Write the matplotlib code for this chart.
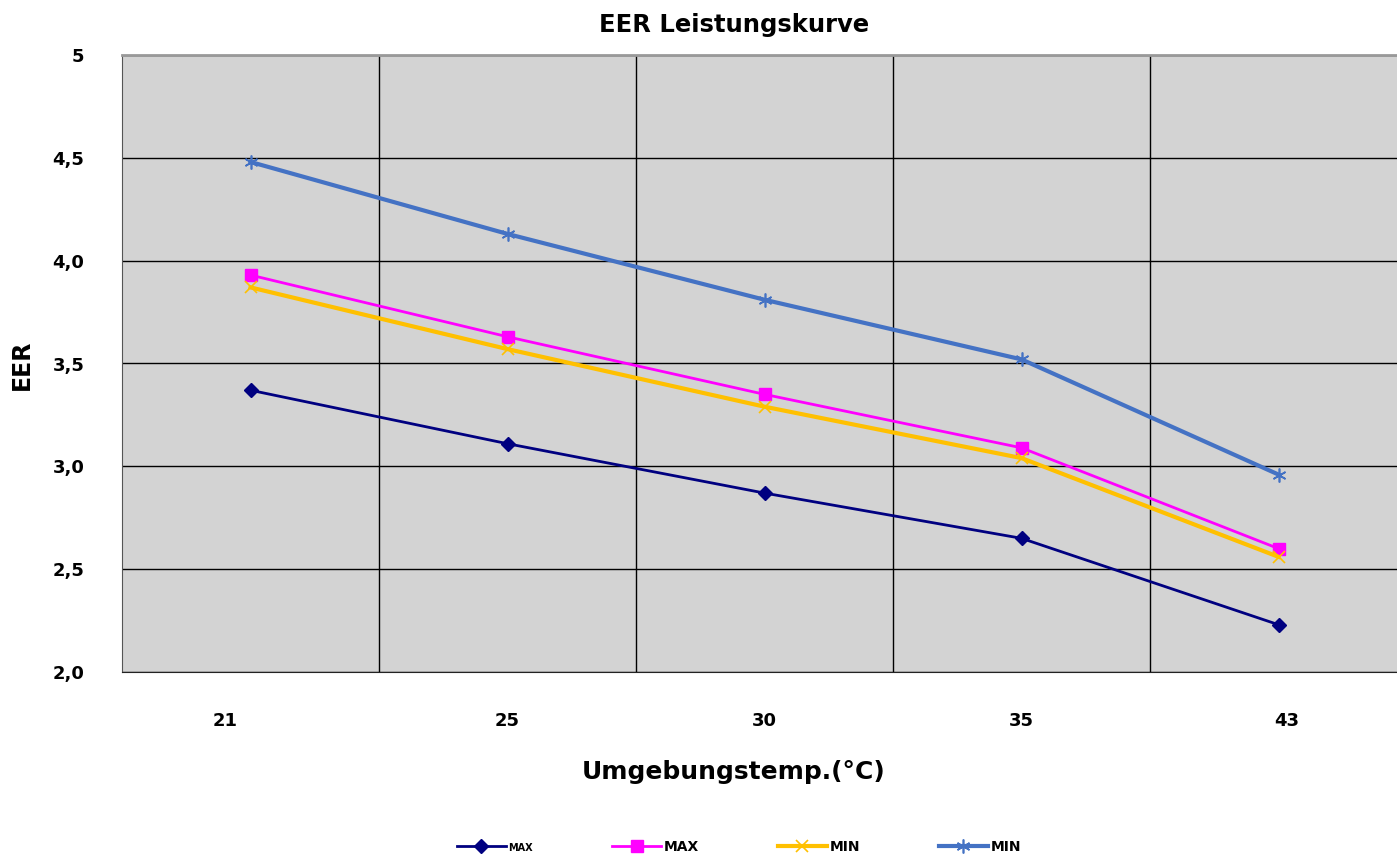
import matplotlib
matplotlib.use("Agg")
import matplotlib.pyplot as plt
import matplotlib.transforms as mtransforms

# Daten
temperaturen = ["21", "25", "30", "35", "43"]
max_1 = [3.37, 3.11, 2.87, 2.65, 2.23]
max_2 = [3.93, 3.63, 3.35, 3.09, 2.60]
min_1 = [3.87, 3.57, 3.29, 3.04, 2.56]
min_2 = [4.48, 4.13, 3.81, 3.52, 2.96]
y_ticks = [2.0, 2.5, 3.0, 3.5, 4.0, 4.5, 5.0]
y_labels = ["2,0", "2,5", "3,0", "3,5", "4,0", "4,5", "5"]

plt.rcParams['font.family'] = ['DejaVu Sans']
plt.rcParams['font.weight'] = 'bold'

fig = plt.figure(figsize=(13.97, 8.55), dpi=100)
ax = fig.add_axes([122 / 1397, 183 / 855, 1285 / 1397, 617 / 855])
ax.set_facecolor('#d3d3d3')

x = list(range(len(temperaturen)))
ax.plot(x, max_1, color='#000080', lw=2, marker='D', ms=7, label='MAX', zorder=5)
ax.plot(x, max_2, color='#ff00ff', lw=2, marker='s', ms=9, label='MAX', zorder=5)
ax.plot(x, min_1, color='#ffc000', lw=3, marker='x', ms=8, mew=1.2, label='MIN', zorder=5)
ax.plot(x, min_2, color='#4472c4', lw=3, marker=(6, 2, 0), ms=10, mew=1.2, label='MIN', zorder=5)

ax.set_xlim(-0.5, len(temperaturen) - 0.5)
ax.set_ylim(2.0, 5.0)
ax.set_yticks(y_ticks)
ax.set_yticklabels(y_labels, fontsize=13, fontweight='bold')
ax.set_xticks(x)
ax.set_xticklabels(temperaturen, fontsize=13, fontweight='bold')
ax.set_xticks([i + 0.5 for i in x[:-1]], minor=True)
ax.tick_params(axis='both', which='both', length=0)
ax.tick_params(axis='x', pad=29)
ax.tick_params(axis='y', pad=27)

# Randbeschriftungen leicht verschieben wie im Original
labels = ax.get_xticklabels()
labels[0].set_transform(labels[0].get_transform() + mtransforms.ScaledTranslation(-0.25, 0, fig.dpi_scale_trans))
labels[-1].set_transform(labels[-1].get_transform() + mtransforms.ScaledTranslation(0.08, 0, fig.dpi_scale_trans))

ax.grid(axis='y', which='major', color='black', lw=1)
ax.grid(axis='x', which='minor', color='black', lw=1)
ax.set_axisbelow(True)

ax.spines['right'].set_visible(False)
ax.spines['top'].set_color('#999999')
ax.spines['top'].set_linewidth(2)
ax.spines['left'].set_color('#555555')
ax.spines['bottom'].set_color('#222222')

fig.text(734 / 1397, 1 - 25 / 855, 'EER Leistungskurve', ha='center', va='center', fontsize=17.5, fontweight='bold')
fig.text(734 / 1397, 1 - 772 / 855, 'Umgebungstemp.(°C)', ha='center', va='center', fontsize=18, fontweight='bold')
fig.text(22 / 1397, 1 - 365 / 855, 'EER', ha='center', va='center', rotation=90, fontsize=17, fontweight='bold')

leg = fig.legend(loc='center', bbox_to_anchor=(739 / 1397, 1 - 847 / 855), ncol=4, frameon=False,
                 columnspacing=5.7, handlelength=3.5, handletextpad=0.2,
                 prop={'weight': 'bold', 'size': 10})
leg.get_texts()[0].set_fontsize(7)

plt.savefig('out.png', dpi=100)
